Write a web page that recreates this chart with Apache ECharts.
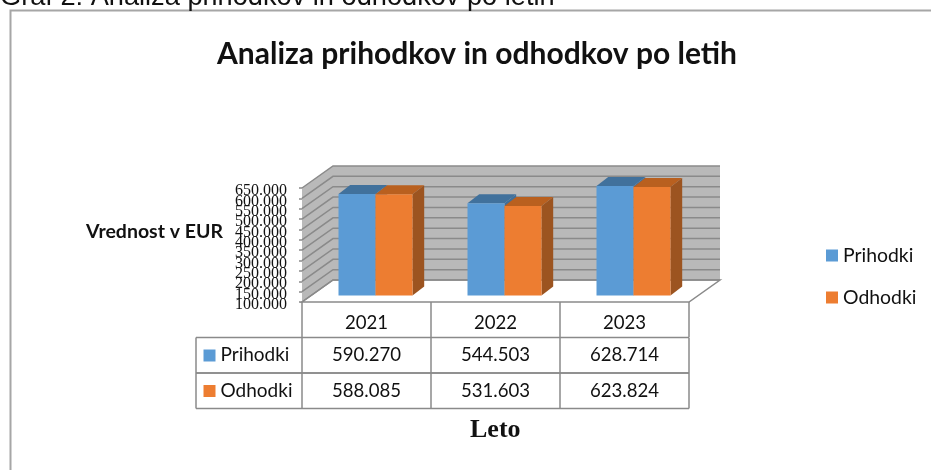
<!DOCTYPE html>
<html>
<head>
  <meta charset="UTF-8">
  <title>Analiza prihodkov in odhodkov po letih</title>
  <script src="https://cdn.jsdelivr.net/npm/echarts@6/dist/echarts.min.js"></script>
  <style>
    html, body { margin: 0; padding: 0; background: #fff; }
    #main { width: 931px; height: 470px; }
  </style>
</head>
<body>
<div id="main"></div>
<script type="text/javascript">
  var years = ['2021', '2022', '2023'];
  var prihodki = [590270, 544503, 628714];
  var odhodki = [588085, 531603, 623824];
  var yTicks = [100000, 150000, 200000, 250000, 300000, 350000, 400000, 450000, 500000, 550000, 600000, 650000];
  var seriesNames = ['Prihodki', 'Odhodki'];

  var blue = { front: '#5b9bd5', top: '#41719c', side: '#3f6f9a' };
  var orange = { front: '#ed7d31', top: '#b9601f', side: '#9c5420' };
  var gridGray = '#8a8a8a';
  var wallDx = 31, wallDy = 22;      // depth of the fake 3d box
  var barDx = 11.7, barDy = 9;       // depth of a bar
  var barShiftX = 9, barShiftY = 6.5; // bars stand a little inside the floor
  var barW = 37;

  function fmt(v) {
    return String(v).replace(/\B(?=(\d{3})+$)/g, '.');
  }

  function withIndex(values) {
    return values.map(function (v, i) { return [i, v]; });
  }

  function poly(points, fill, stroke, z) {
    return {
      type: 'polygon', z2: z || 0,
      shape: { points: points },
      style: { fill: fill, stroke: stroke || null, lineWidth: stroke ? 1.5 : 0 }
    };
  }

  // back wall, side wall and floor, the corners come from the axes
  function renderBox(params, api) {
    var bl = api.coord([0, yTicks[0]]);
    var tl = api.coord([0, yTicks[yTicks.length - 1]]);
    var bw = api.size([1, 0])[0];
    var x0 = bl[0] - bw / 2, x1 = x0 + bw * years.length;
    var yb = bl[1], yt = tl[1];
    var wall = '#b9b9b9';
    return {
      type: 'group',
      children: [
        poly([[x0, yb], [x0 + wallDx, yb - wallDy], [x0 + wallDx, yt - wallDy], [x0, yt]], wall, null),
        poly([[x0 + wallDx, yb - wallDy], [x1 + wallDx, yb - wallDy], [x1 + wallDx, yt - wallDy], [x0 + wallDx, yt - wallDy]], wall, null),
        poly([[x0, yb], [x1, yb], [x1 + wallDx, yb - wallDy], [x0 + wallDx, yb - wallDy]], '#fff', gridGray, 2)
      ]
    };
  }

  // wall line plus tick label; the axis own labels drop the ones that overlap, the original keeps them all
  function renderWallLine(params, api) {
    var v = api.value(0);
    var bl = api.coord([0, v]);
    var bw = api.size([1, 0])[0];
    var x0 = bl[0] - bw / 2, x1 = x0 + bw * years.length;
    var y = bl[1];
    return {
      type: 'group',
      children: [
        {
          type: 'polyline',
          shape: { points: [[x0, y], [x0 + wallDx, y - wallDy], [x1 + wallDx, y - wallDy]] },
          style: { fill: null, stroke: gridGray, lineWidth: 1.5 }
        },
        {
          type: 'text',
          style: {
            x: x0 - 15, y: y + 3, text: fmt(v), fill: '#111',
            font: '16px "Liberation Serif"', align: 'right', verticalAlign: 'middle'
          }
        }
      ]
    };
  }

  function renderBar(colors, side) {
    return function (params, api) {
      var c = api.coord([api.value(0), api.value(1)]);
      var base = api.coord([api.value(0), yTicks[0]]);
      var xl = c[0] + barShiftX + (side < 0 ? -barW : 0);
      var xr = xl + barW;
      var yt = c[1] - barShiftY, yb = base[1] - barShiftY;
      return {
        type: 'group',
        children: [
          poly([[xl, yt], [xr, yt], [xr + barDx, yt - barDy], [xl + barDx, yt - barDy]], colors.top),
          poly([[xr, yb], [xr + barDx, yb - barDy], [xr + barDx, yt - barDy], [xr, yt]], colors.side),
          poly([[xl, yb], [xr, yb], [xr, yt], [xl, yt]], colors.front)
        ]
      };
    };
  }

  // data table under the chart, one item per row
  var tableLeft = 196, tableTop = 337.5, rowH = 35.5;
  function renderRow(params, api) {
    var row = params.dataIndex;
    var vals = row === 0 ? prihodki : odhodki;
    var colors = row === 0 ? blue : orange;
    var bw = api.size([1, 0])[0];
    var first = api.coord([0, yTicks[0]])[0];
    var x0 = first - bw / 2, x1 = x0 + bw * years.length;
    var y0 = tableTop + row * rowH, y1 = y0 + rowH;
    var line = { stroke: gridGray, lineWidth: 1.5 };
    var children = [
      { type: 'line', shape: { x1: tableLeft, y1: y0, x2: x1, y2: y0 }, style: line },
      { type: 'line', shape: { x1: tableLeft, y1: y1, x2: x1, y2: y1 }, style: line },
      { type: 'line', shape: { x1: tableLeft, y1: y0, x2: tableLeft, y2: y1 }, style: line },
      { type: 'rect', shape: { x: 203.5, y: y0 + 12, width: 12, height: 12 }, style: { fill: colors.front } },
      {
        type: 'text',
        style: {
          x: 220.5, y: y0 + rowH / 2, text: seriesNames[row], fill: '#111',
          font: '19px Lato', verticalAlign: 'middle'
        }
      }
    ];
    for (var i = 0; i <= years.length; i++) {
      var x = x0 + bw * i;
      children.push({ type: 'line', shape: { x1: x, y1: y0, x2: x, y2: y1 }, style: line });
    }
    for (var j = 0; j < years.length; j++) {
      children.push({
        type: 'text',
        style: {
          x: first + bw * j, y: y0 + rowH / 2, text: fmt(vals[j]), fill: '#111',
          font: '18.6px Lato', align: 'center', verticalAlign: 'middle'
        }
      });
    }
    return { type: 'group', children: children };
  }

  var myChart = echarts.init(document.getElementById('main'), null, { renderer: 'canvas' });

  var option = {
    animation: false,
    backgroundColor: '#fff',
    title: [
      { text: 'Graf 2: Analiza prihodkov in odhodkov po letih', padding: 0, left: 0, top: -16, textStyle: { fontFamily: 'Liberation Sans', fontWeight: 'normal', fontSize: 27.2, color: '#111' } },
      { text: 'Analiza prihodkov in odhodkov po letih', padding: 0, left: 217, top: 39, textStyle: { fontFamily: 'Lato', fontWeight: 'bold', fontSize: 30, color: '#111' } },
      { text: 'Vrednost v EUR', padding: 0, left: 86, top: 222, textStyle: { fontFamily: 'Lato', fontWeight: 'bold', fontSize: 19.5, color: '#111' } },
      { text: 'Leto', padding: 0, left: 470, top: 417, textStyle: { fontFamily: 'Liberation Serif', fontWeight: 'bold', fontSize: 26, color: '#111' } }
    ],
    legend: {
      orient: 'vertical',
      left: 821,
      top: 241,
      icon: 'rect',
      itemWidth: 12,
      itemHeight: 12,
      itemGap: 23,
      selectedMode: false,
      data: [
        { name: seriesNames[0], itemStyle: { color: blue.front } },
        { name: seriesNames[1], itemStyle: { color: orange.front } }
      ],
      textStyle: { fontFamily: 'Lato', fontSize: 19.4, color: '#111', padding: [0, 0, 0, 0] }
    },
    grid: { left: 302, right: 242, top: 188, bottom: 168 },
    xAxis: {
      type: 'category',
      data: years,
      axisLine: { show: false },
      axisTick: { show: true, length: 35, lineStyle: { color: gridGray, width: 1.5 } },
      axisLabel: { margin: 11, fontFamily: 'Lato', fontSize: 18.6, color: '#111' }
    },
    yAxis: {
      type: 'value',
      min: 100000,
      max: 650000,
      interval: 50000,
      axisLine: { show: false },
      axisTick: { show: true, length: 3, lineStyle: { color: gridGray, width: 1.5 } },
      splitLine: { show: false },
      axisLabel: { show: false }
    },
    graphic: [{
      type: 'polyline',
      silent: true,
      shape: { points: [[10.5, 470], [10.5, 10.5], [931, 10.5]] },
      style: { fill: null, stroke: '#a6a6a6', lineWidth: 2 }
    }],
    series: [
      { type: 'custom', name: 'box', z: 1, silent: true, clip: false, data: [[0, yTicks[0]]], renderItem: renderBox },
      { type: 'custom', name: 'wallLines', z: 2, silent: true, clip: false, data: yTicks.map(function (t) { return [t]; }), encode: { y: 0 }, renderItem: renderWallLine },
      { type: 'custom', name: seriesNames[0], z: 4, clip: false, itemStyle: { color: blue.front }, data: withIndex(prihodki), encode: { x: 0, y: 1 }, renderItem: renderBar(blue, -1) },
      { type: 'custom', name: seriesNames[1], z: 5, clip: false, itemStyle: { color: orange.front }, data: withIndex(odhodki), encode: { x: 0, y: 1 }, renderItem: renderBar(orange, 1) },
      { type: 'custom', name: 'table', z: 3, silent: true, clip: false, data: [[0, yTicks[0]], [1, yTicks[0]]], renderItem: renderRow }
    ]
  };

  myChart.setOption(option);
</script>
</body>
</html>
